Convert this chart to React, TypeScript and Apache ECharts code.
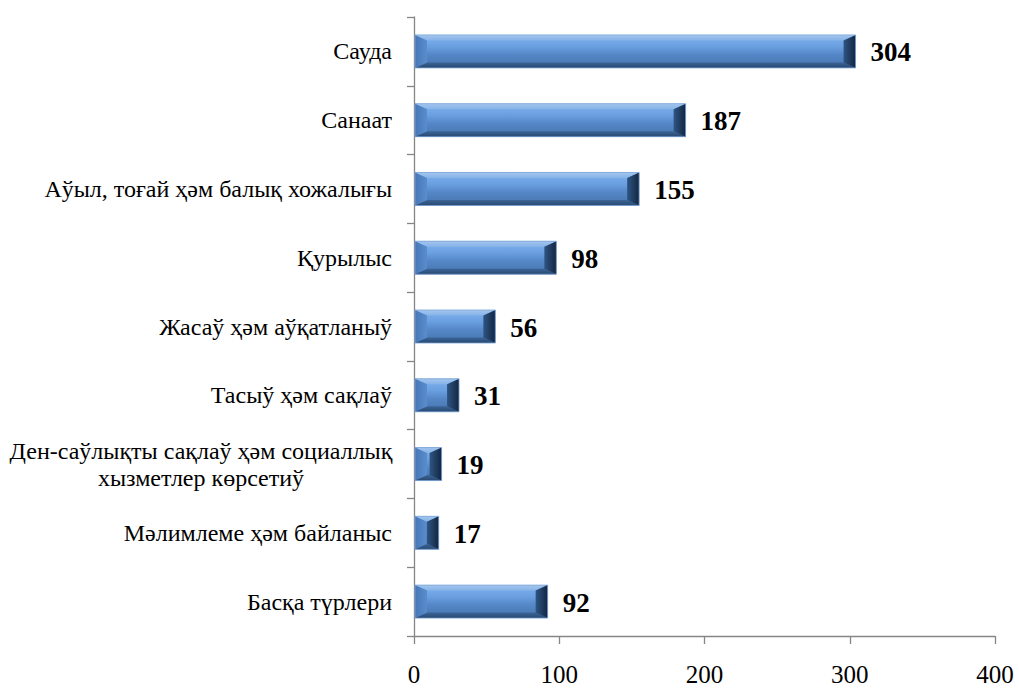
import React, { useEffect, useRef } from "react";
import * as echarts from "echarts";

const categories = [
  "Сауда",
  "Санаат",
  "Аўыл, тоғай ҳәм балық хожалығы",
  "Қурылыс",
  "Жасаў ҳәм аўқатланыў",
  "Тасыў ҳәм сақлаў",
  "Ден-саўлықты сақлаў ҳәм социаллық\nхызметлер көрсетиў",
  "Мәлимлеме ҳәм байланыс",
  "Басқа түрлери",
];
const values = [304, 187, 155, 98, 56, 31, 19, 17, 92];
const xTicks = [0, 100, 200, 300, 400];

const FONT_BOLD = "Liberation Serif";
const FONT_REG = "serif";
const AXIS = "#868686";

export default function App() {
  const ref = useRef<HTMLDivElement>(null);
  useEffect(() => {
    const chart = echarts.init(ref.current!, null, { renderer: "svg" });
    const barData = values.map((v, i) => [v, i]);
    const catData = categories.map((_, i) => [0, i]);
    const tickData = xTicks.map((t) => [t, 0]);

    const barRender = (params: any, api: any) => {
      const v = api.value(0);
      const idx = api.value(1);
      const end = api.coord([v, idx]);
      const start = api.coord([0, idx]);
      const band = api.size([0, 1])[1];
      const h = band * 0.48;
      const x0 = start[0] + 1;
      const x1 = end[0];
      const y0 = end[1] - h / 2;
      const y1 = end[1] + h / 2;
      const w = x1 - x0;
      const bx = Math.min(12, w / 2);
      const by = 5.5;
      return {
        type: "group",
        children: [
          {
            type: "rect",
            shape: { x: x0, y: y0, width: w, height: h },
            style: {
              fill: new echarts.graphic.LinearGradient(0, 0, 0, 1, [
                { offset: 0, color: "#80b2ef" },
                { offset: 0.35, color: "#6a9fe0" },
                { offset: 0.6, color: "#5587c7" },
                { offset: 1, color: "#4674ad" },
              ]),
            },
          },
          {
            type: "polygon",
            shape: { points: [[x0, y0], [x1, y0], [x1 - bx, y0 + by], [x0 + bx, y0 + by]] },
            style: {
              fill: new echarts.graphic.LinearGradient(0, 0, 0, 1, [
                { offset: 0, color: "#a4c6ee" },
                { offset: 1, color: "#86b3e8" },
              ]),
            },
          },
          {
            type: "polygon",
            shape: { points: [[x0, y1], [x1, y1], [x1 - bx, y1 - by], [x0 + bx, y1 - by]] },
            style: {
              fill: new echarts.graphic.LinearGradient(0, 0, 0, 1, [
                { offset: 0, color: "#3b6597" },
                { offset: 1, color: "#284870" },
              ]),
            },
          },
          {
            type: "polygon",
            shape: { points: [[x0, y0], [x0 + bx, y0 + by], [x0 + bx, y1 - by], [x0, y1]] },
            style: {
              fill: new echarts.graphic.LinearGradient(0, 0, 1, 0, [
                { offset: 0, color: "#4677b6" },
                { offset: 1, color: "#5a8dcd" },
              ]),
            },
          },
          {
            type: "polygon",
            shape: { points: [[x1, y0], [x1 - bx, y0 + by], [x1 - bx, y1 - by], [x1, y1]] },
            style: {
              fill: new echarts.graphic.LinearGradient(0, 0, 1, 0, [
                { offset: 0, color: "#2e5584" },
                { offset: 1, color: "#132640" },
              ]),
            },
          },
          {
            type: "rect",
            shape: { x: x0, y: y0, width: w, height: h },
            style: { fill: "none", stroke: "#7aa3d6", lineWidth: 0.8 },
          },
          {
            type: "text",
            style: {
              text: String(v),
              x: x1 + 15,
              y: end[1] + 1,
              verticalAlign: "middle",
              align: "left",
              fontFamily: FONT_BOLD,
              fontWeight: "bold",
              fontSize: 27,
              fill: "#000",
            },
          },
        ],
      };
    };

    const catRender = (params: any, api: any) => {
      const idx = api.value(1);
      const p = api.coord([0, idx]);
      const label = categories[idx];
      const multi = label.indexOf("\n") >= 0;
      const right = p[0] - 22;
      return {
        type: "text",
        style: {
          text: label,
          x: multi ? right - 191 : right,
          y: p[1],
          align: multi ? "center" : "right",
          verticalAlign: "middle",
          fontFamily: FONT_REG,
          fontSize: 24,
          lineHeight: 27,
          fill: "#000",
        },
      };
    };

    const tickRender = (params: any, api: any) => {
      const t = api.value(0);
      const p = api.coord([t, 0]);
      const cs = params.coordSys;
      return {
        type: "text",
        style: {
          text: String(t),
          x: p[0],
          y: cs.y + cs.height + 38,
          align: "center",
          verticalAlign: "middle",
          fontFamily: FONT_REG,
          fontSize: 25,
          fill: "#000",
        },
      };
    };

    chart.setOption({
      animation: false,
      grid: { left: 414, right: 24, top: 17, bottom: 52 },
      xAxis: {
        type: "value",
        min: xTicks[0],
        max: xTicks[xTicks.length - 1],
        interval: 100,
        splitLine: { show: false },
        axisLine: { show: true, lineStyle: { color: AXIS, width: 1.3 } },
        axisTick: { show: true, length: 8, lineStyle: { color: AXIS, width: 1.3 } },
        axisLabel: { show: false },
      },
      yAxis: {
        type: "category",
        inverse: true,
        data: categories,
        axisLine: { show: true, lineStyle: { color: AXIS, width: 1.3 } },
        axisTick: { show: true, length: 7, lineStyle: { color: AXIS, width: 1.3 } },
        axisLabel: { show: false },
      },
      series: [
        { type: "custom", data: barData, encode: { x: 0, y: 1 }, renderItem: barRender, silent: true, z: 3 },
        { type: "custom", data: catData, encode: { x: 0, y: 1 }, renderItem: catRender, silent: true, clip: false },
        { type: "custom", data: tickData, encode: { x: 0, y: 1 }, renderItem: tickRender, silent: true, clip: false },
      ],
    });
    return () => chart.dispose();
  }, []);
  return (
    <div
      ref={ref}
      style={{ width: 1019, height: 688, position: "absolute", left: 0, top: 0 }}
    />
  );
}
